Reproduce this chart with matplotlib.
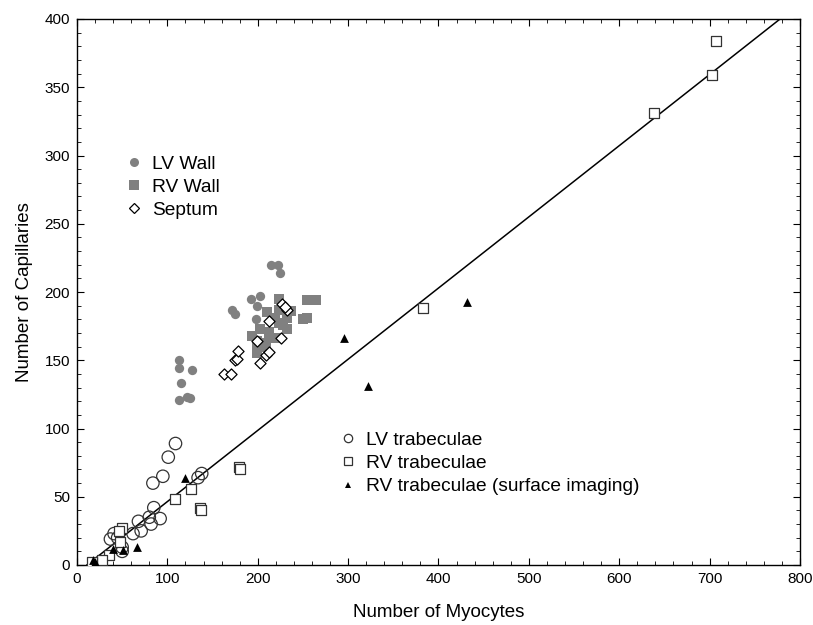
import matplotlib
matplotlib.use("Agg")
import matplotlib.pyplot as plt
from matplotlib.lines import Line2D
from matplotlib.ticker import MultipleLocator
import numpy as np

# LV wall (filled grey circles)
lv_wall_x = [113, 113, 127, 115, 113, 122, 125, 215, 222, 225, 193, 202, 199, 171, 175, 198]
lv_wall_y = [150, 144, 143, 133, 121, 123, 122, 220, 220, 214, 195, 197, 190, 187, 184, 180]

# RV wall (filled grey squares)
rv_wall_x = [223, 255, 264, 210, 224, 237, 219, 232, 250, 255, 228, 224, 202, 213,
             194, 213, 219, 199, 206, 199, 199, 209, 232]
rv_wall_y = [195, 194, 194, 185, 187, 186, 181, 181, 180, 181, 176, 177, 173, 171,
             168, 167, 166, 164, 163, 159, 155, 160, 173]

# Septum (open diamonds)
septum_x = [163, 170, 175, 177, 178, 202, 209, 213, 199, 226, 212, 227, 232, 230]
septum_y = [140, 140, 150, 151, 157, 148, 154, 156, 164, 166, 179, 191, 187, 189]

# LV trabeculae (open circles)
lv_trab_x = [109, 101, 95, 84, 138, 134, 85, 80, 92, 82, 68, 71, 62, 37, 41, 50, 50, 45]
lv_trab_y = [89, 79, 65, 60, 67, 64, 42, 35, 34, 30, 32, 25, 23, 19, 23, 13, 10, 20]

# RV trabeculae (open squares)
rv_trab_x = [707, 703, 639, 383, 179, 180, 136, 137, 126, 109, 50, 47, 48, 35, 28, 17]
rv_trab_y = [384, 359, 331, 188, 72, 70, 42, 40, 56, 48, 27, 25, 17, 7, 4, 2]

# RV trabeculae, surface imaging (filled triangles)
rv_surf_x = [18, 20, 40, 51, 66, 120, 295, 322, 431]
rv_surf_y = [4, 2, 12, 11, 13, 64, 166, 131, 193]

# regression line
fit_slope = 0.5215
fit_intercept = -5.7
fit_x = [11, 800]

plt.rcParams['font.family'] = ['Liberation Sans', 'DejaVu Sans']

fig = plt.figure(figsize=(8.13, 6.25), dpi=100)
ax = fig.add_axes([0.0947, 0.096, 0.8893, 0.8736])

grey = '#808080'
edge = '#333333'

ax.scatter(lv_wall_x, lv_wall_y, s=45, marker='o', color=grey, linewidths=0, zorder=3)
ax.scatter(rv_wall_x, rv_wall_y, s=60, marker='s', color=grey, linewidths=0, zorder=3)
ax.scatter(septum_x, septum_y, s=32, marker='D', facecolor='white', edgecolor='black',
           linewidths=0.9, zorder=4)
ax.scatter(lv_trab_x, lv_trab_y, s=80, marker='o', facecolor='none', edgecolor=edge,
           linewidths=0.9, zorder=3)
ax.scatter(rv_trab_x, rv_trab_y, s=60, marker='s', facecolor='white', edgecolor=edge,
           linewidths=0.9, zorder=3)
ax.scatter(rv_surf_x, rv_surf_y, s=40, marker='^', color='black', linewidths=0, zorder=4)

fx = np.array(fit_x, dtype=float)
ax.plot(fx, fit_slope * fx + fit_intercept, color='black', linewidth=1.1, zorder=2)

ax.set_xlim(0, 800)
ax.set_ylim(0, 400)
ax.xaxis.set_major_locator(MultipleLocator(100))
ax.xaxis.set_minor_locator(MultipleLocator(20))
ax.yaxis.set_major_locator(MultipleLocator(50))
ax.yaxis.set_minor_locator(MultipleLocator(10))
ax.tick_params(which='both', direction='in', top=True, right=True, labelsize=11)
ax.tick_params(which='major', length=5, pad=5)
ax.tick_params(which='minor', length=3)
for sp in ax.spines.values():
    sp.set_linewidth(1.0)

ax.set_xlabel('Number of Myocytes', fontsize=13.5, labelpad=13)
ax.set_ylabel('Number of Capillaries', fontsize=13.5, labelpad=8)

h1 = [Line2D([], [], ls='none', marker='o', ms=6.5, color=grey, mew=0),
      Line2D([], [], ls='none', marker='s', ms=6.5, color=grey, mew=0),
      Line2D([], [], ls='none', marker='D', ms=5, mfc='white', mec='black', mew=0.9)]
leg1 = ax.legend(h1, ['LV Wall', 'RV Wall', 'Septum'], loc='upper left',
                 bbox_to_anchor=(0.052, 0.768), frameon=False, borderpad=0,
                 handlelength=1, handletextpad=0.45, labelspacing=0.3,
                 prop={'size': 13.8})
ax.add_artist(leg1)

h2 = [Line2D([], [], ls='none', marker='o', ms=6, mfc='white', mec=edge, mew=0.9),
      Line2D([], [], ls='none', marker='s', ms=5.5, mfc='white', mec=edge, mew=0.9),
      Line2D([], [], ls='none', marker='^', ms=5, color='black', mew=0)]
ax.legend(h2, ['LV trabeculae', 'RV trabeculae', 'RV trabeculae (surface imaging)'],
          loc='upper left', bbox_to_anchor=(0.348, 0.262), frameon=False, borderpad=0,
          handlelength=1, handletextpad=0.45, labelspacing=0.3,
          prop={'size': 13.8})

fig.savefig('out.png', dpi=100)
